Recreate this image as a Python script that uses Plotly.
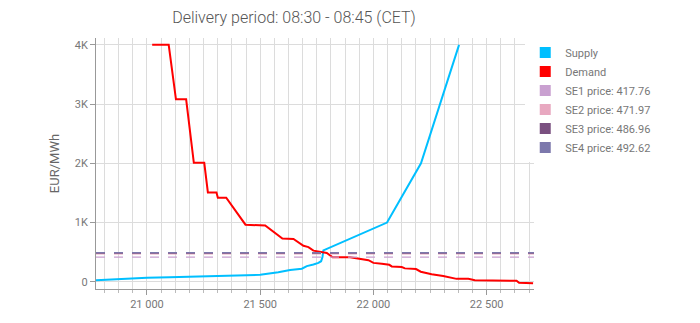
import plotly.graph_objects as go

# ---- data ----
supply_x = [20775, 20900, 21000, 21100, 21200, 21300, 21400, 21500, 21580, 21632,
            21684, 21706, 21735, 21757, 21769, 21775, 21779, 22060, 22210, 22378]
supply_y = [28, 55, 68, 78, 88, 98, 108, 118, 160, 199,
            221, 265, 294, 320, 348, 420, 530, 1000, 2000, 4000]

demand_x = [21023, 21096, 21128, 21173, 21207, 21253, 21269, 21307, 21313, 21350,
            21435, 21522, 21598, 21647, 21691, 21713, 21735, 21757, 21794, 21820,
            21897, 21978, 22000, 22037, 22070, 22081, 22125, 22139, 22188, 22209,
            22257, 22308, 22367, 22419, 22448, 22632, 22643, 22705]
demand_y = [4000, 4000, 3080, 3080, 2010, 2010, 1510, 1510, 1420, 1420,
            965, 950, 730, 725, 609, 586, 526, 514, 487, 415,
            415, 365, 320, 304, 287, 260, 249, 227, 216, 171,
            128, 100, 50, 50, 28, 17, -17, -22]

price_areas = ["SE1", "SE2", "SE3", "SE4"]
prices = [417.76, 471.97, 486.96, 492.62]
price_colors = ["#c9a0d0", "#e8a8c0", "#7a5080", "#7c78ac"]

y_tickvals = [0, 1000, 2000, 3000, 4000]
y_ticktext = ["0", "1K", "2K", "3K", "4K"]
x_tickvals = [21000, 21500, 22000, 22500]

title_text = "Delivery period: 08:30 - 08:45 (CET)"

FONT = "Roboto"

fig = go.Figure()
fig.add_trace(go.Scatter(x=supply_x, y=supply_y, mode="lines",
                         line=dict(color="#00bfff", width=2), showlegend=False,
                         name="Supply"))
fig.add_trace(go.Scatter(x=demand_x, y=demand_y, mode="lines",
                         line=dict(color="#ff0000", width=2), showlegend=False,
                         name="Demand"))

for area, p, c in zip(price_areas, prices, price_colors):
    fig.add_shape(type="line", xref="x domain", x0=0, x1=1, yref="y", y0=p, y1=p,
                  line=dict(color=c, width=1.3, dash="dash"))

legend_names = ["Supply", "Demand"] + [f"{a} price: {p:.2f}" for a, p in zip(price_areas, prices)]
legend_colors = ["#00bfff", "#ff0000"] + price_colors
for n, c in zip(legend_names, legend_colors):
    fig.add_trace(go.Scatter(x=[None], y=[None], mode="markers", name=n,
                             marker=dict(symbol="square", size=11, color=c)))

fig.update_layout(
    width=700, height=323,
    margin=dict(l=96, r=166, t=38, b=30),
    paper_bgcolor="white", plot_bgcolor="white",
    separators=". ",
    font=dict(family=FONT, color="#777", size=11),
    title=dict(text=title_text, x=0.42, xanchor="center", y=0.945, yanchor="middle",
               font=dict(family=FONT, size=16, color="#555", weight=300)),
    legend=dict(x=0.98, xanchor="left", y=1.0, yanchor="top",
                font=dict(size=11, color="#777"), tracegroupgap=0,
                itemwidth=30),
    xaxis=dict(range=[20775, 22709], tickvals=x_tickvals, tickformat=",d",
               showgrid=True,
               gridcolor="#dcdcdc", gridwidth=1, zeroline=False,
               showline=True, linecolor="#999", linewidth=1,
               ticks="outside", ticklen=5, tickcolor="#999",
               tickfont=dict(size=11, color="#777"),
               minor=dict(dtick=62.5, tick0=21000, showgrid=True, gridcolor="#dcdcdc",
                          ticks="outside", ticklen=3, tickcolor="#bbb")),
    yaxis=dict(range=[-121, 4116], tickvals=y_tickvals, ticktext=y_ticktext,
               showgrid=True, gridcolor="#dcdcdc", zeroline=False,
               showline=True, linecolor="#999", linewidth=1,
               ticks="outside", ticklen=5, tickcolor="#999",
               tickfont=dict(size=11, color="#777"),
               title=dict(text="EUR/MWh", font=dict(size=13, color="#666"), standoff=12)),
)

fig.write_html("out.html")
